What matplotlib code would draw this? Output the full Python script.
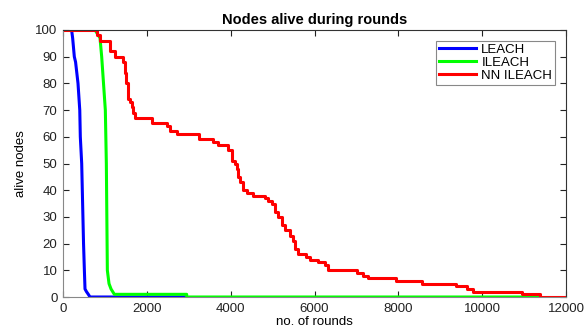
import numpy as np
import matplotlib
matplotlib.use("Agg")
import matplotlib.pyplot as plt

plt.rcParams['font.family'] = ['Liberation Sans', 'DejaVu Sans']

# LEACH curve (alive nodes vs rounds)
leach_rounds = [0, 205, 230, 270, 300, 358, 400, 413, 446, 490, 510, 525, 560, 604, 644, 2900]
leach_alive = [100, 100, 97, 90, 88, 80, 70, 60, 50, 20, 10, 3, 2, 1, 0, 0]

# ILEACH curve
ileach_rounds = [0, 764, 883, 923, 1010, 1034, 1058, 1098, 1146, 1225, 2950, 2950, 11340]
ileach_alive = [100, 100, 97, 90, 70, 50, 10, 5, 3, 1, 1, 0, 0]

# NN ILEACH curve (step changes)
nn_rounds = [0, 802, 883, 1122, 1241, 1439, 1480, 1504, 1540, 1600, 1639, 1678, 1718,
             2117, 2475, 2554, 2713, 3246, 3587, 3707, 3946, 4041, 4100, 4150, 4184,
             4224, 4303, 4383, 4542, 4821, 4900, 4980, 5060, 5139, 5219, 5298, 5418,
             5481, 5537, 5617, 5800, 5895, 6093, 6253, 6332, 7009, 7168, 7288, 7948,
             8561, 9372, 9635, 9793, 10962, 11384, 12000]
nn_alive = [100, 98, 96, 92, 90, 88, 84, 80, 74, 73, 71, 69, 67,
            65, 64, 62, 61, 59, 58, 57, 55, 51, 50, 48, 45,
            43, 40, 39, 38, 37, 36, 35, 32, 30, 27, 25, 23,
            21, 18, 16, 15, 14, 13, 12, 10, 9, 8, 7, 6,
            5, 4, 3, 2, 1, 0, 0]

x_ticks = [0, 2000, 4000, 6000, 8000, 10000, 12000]
y_ticks = [0, 10, 20, 30, 40, 50, 60, 70, 80, 90, 100]

fig = plt.figure(figsize=(5.87, 3.29), dpi=100)
ax = fig.add_axes([63/587, 32/329, 503/587, 267/329])

ax.plot(leach_rounds, leach_alive, color='#0000ff', lw=2.2, label='LEACH')
ax.plot(ileach_rounds, ileach_alive, color='#00ff00', lw=2.2, label='ILEACH')
ax.plot(nn_rounds, nn_alive, color='#ff0000', lw=2.2, drawstyle='steps-post', label='NN ILEACH')

ax.set_xlim(0, 12000)
ax.set_ylim(0, 100)
ax.set_xticks(x_ticks)
ax.set_yticks(y_ticks)
ax.tick_params(direction='in', top=True, right=True, length=4, labelsize=9.5,
               colors='#222222', pad=4)
for s in ['left', 'bottom']:
    ax.spines[s].set_color('#888888')
for s in ['top', 'right']:
    ax.spines[s].set_color('#333333')

ax.set_title('Nodes alive during rounds', fontsize=10.5, fontweight='bold', pad=4)
ax.set_xlabel('no. of rounds', fontsize=9.5, labelpad=1)
ax.set_ylabel('alive nodes', fontsize=9.5, labelpad=6)

leg = ax.legend(loc='upper right', fontsize=9.5, fancybox=False, framealpha=1,
                edgecolor='#888888', handlelength=2.8, borderaxespad=0.8,
                labelspacing=0.05, handletextpad=0.4, borderpad=0.25)
leg.get_frame().set_linewidth(0.8)

fig.savefig('out.png', dpi=100)
